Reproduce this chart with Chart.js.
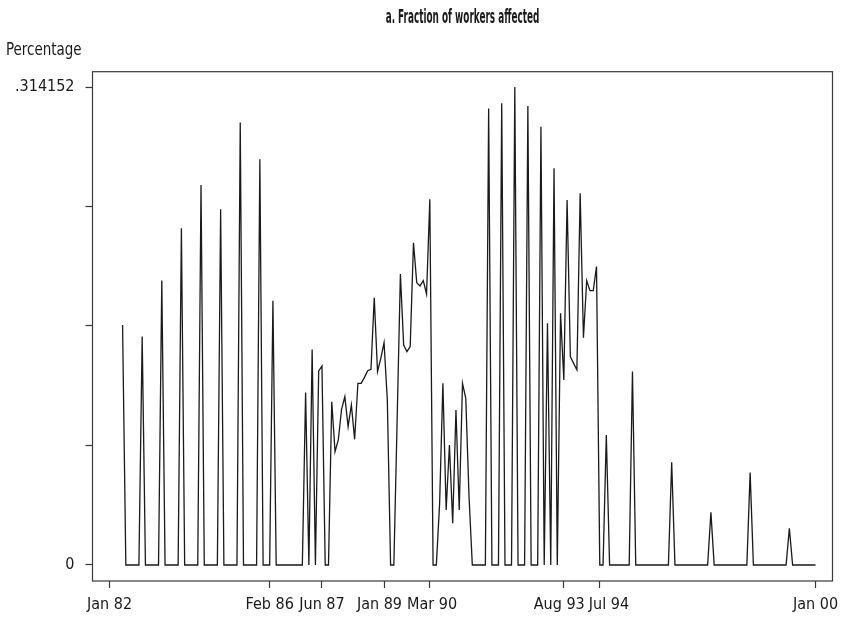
<!DOCTYPE html>
<html>
<head>
<meta charset="utf-8">
<script src="https://cdn.jsdelivr.net/npm/chart.js@4.4.1/dist/chart.umd.min.js"></script>
<style>
  html, body { margin: 0; padding: 0; background: #fff; }
  #wrap { width: 843px; height: 621px; }
</style>
</head>
<body>
<div id="wrap"><canvas id="fractionChart"></canvas></div>
<script>
// Months counted from Jan 82 (0) to Jan 00 (216)
const tickMonths = [0, 49, 65, 84, 98, 139, 150, 216];
const tickLabels = ["Jan 82", "Feb 86", "Jun 87", "Jan 89", "Mar 90", "Aug 93", "Jul 94", "Jan 00"];

const yTicks = [0, 0.078538, 0.157076, 0.235614, 0.314152];
const yTickLabels = ["0", "", "", "", ".314152"];

// Fraction of workers affected, one value per month (rows = years)
const fraction = [
  null, null, null, null, 0.1577, 0, 0, 0, 0, 0, 0.1501, 0,               // 1982
  0, 0, 0, 0, 0.1869, 0, 0, 0, 0, 0, 0.2213, 0,                           // 1983
  0, 0, 0, 0, 0.2497, 0, 0, 0, 0, 0, 0.2338, 0,                           // 1984
  0, 0, 0, 0, 0.2909, 0, 0, 0, 0, 0, 0.2666, 0,                           // 1985
  0, 0, 0.1737, 0, 0, 0, 0, 0, 0, 0, 0, 0,                                // 1986
  0.1133, 0, 0.1417, 0, 0.1275, 0.1307, 0, 0, 0.1073, 0.0745, 0.0822, 0.1023, // 1987
  0.1106, 0.0909, 0.1052, 0.0826, 0.1194, 0.1194, 0.1233, 0.1277, 0.1286, 0.1757, 0.1271, 0.1358, // 1988
  0.1461, 0.1084, 0, 0, 0.095, 0.1913, 0.1446, 0.1402, 0.1435, 0.2118, 0.1856, 0.1834, // 1989
  0.1869, 0.1781, 0.2403, 0, 0, 0.0405, 0.1194, 0.0361, 0.0789, 0.0274, 0.1019, 0.0361, // 1990
  0.1194, 0.1095, 0.0449, 0, 0, 0, 0, 0, 0.3001, 0, 0, 0,                 // 1991
  0.3034, 0, 0, 0, 0.3142, 0, 0, 0, 0.3017, 0, 0, 0,                      // 1992
  0.2881, 0, 0.1588, 0, 0.2607, 0, 0.1654, 0.1216, 0.2399, 0.1369, 0.1325, 0.1282, // 1993
  0.2443, 0.1494, 0.1869, 0.1803, 0.1803, 0.1961, 0, 0, 0.0854, 0, 0, 0,  // 1994
  0, 0, 0, 0, 0.1271, 0, 0, 0, 0, 0, 0, 0,                                // 1995
  0, 0, 0, 0, 0.0675, 0, 0, 0, 0, 0, 0, 0,                                // 1996
  0, 0, 0, 0, 0.0346, 0, 0, 0, 0, 0, 0, 0,                                // 1997
  0, 0, 0, 0, 0.0607, 0, 0, 0, 0, 0, 0, 0,                                // 1998
  0, 0, 0, 0, 0.0241, 0, 0, 0, 0, 0, 0, 0,                                // 1999
  0                                                                       // 2000
];

const titleText = "a. Fraction of workers affected";
const yAxisLabel = "Percentage";

const FONT = "'DejaVu Sans Condensed', 'Liberation Sans Narrow', 'Liberation Sans', sans-serif";
const INK = "#1a1a1a";
const AXIS = "#3a3a3a";
const NBSP = "\u00a0";

// squeeze text sideways, the original uses a condensed face
function drawNarrow(ctx, text, x, y, font, squeeze, align) {
  ctx.save();
  ctx.font = font;
  ctx.textAlign = align;
  ctx.textBaseline = "alphabetic";
  ctx.translate(x, y);
  ctx.scale(squeeze, 1);
  ctx.fillText(text, 0, 0);
  ctx.restore();
}

// crowded labels get nudged apart like in the original
function spacedLabel(index) {
  const label = tickLabels[index];
  if (index === 3) return label + NBSP + NBSP;
  if (index === 4) return NBSP + label;
  if (index === 5) return label + NBSP + NBSP;
  if (index === 6) return NBSP + NBSP + NBSP + NBSP + label;
  return label;
}

// Box round the plot, the title and the "Percentage" label
const framePlugin = {
  id: "frame",
  afterDraw(chart) {
    const { ctx, chartArea: a } = chart;
    ctx.save();
    ctx.strokeStyle = AXIS;
    ctx.lineWidth = 1.2;
    ctx.strokeRect(a.left, a.top, a.right - a.left, a.bottom - a.top);
    ctx.fillStyle = INK;
    drawNarrow(ctx, titleText, (a.left + a.right) / 2, 23, "bold 19px " + FONT, 0.52, "center");
    drawNarrow(ctx, yAxisLabel, 6, 55, "17px " + FONT, 0.88, "left");
    ctx.restore();
  },
};

const points = fraction.map((v, i) => ({ x: i, y: v }));

const fractionChart = new Chart(document.getElementById("fractionChart"), {
  type: "line",
  data: {
    datasets: [
      {
        data: points,
        borderColor: INK,
        borderWidth: 1.3,
        pointRadius: 0,
        tension: 0,
        spanGaps: false,
      },
    ],
  },
  options: {
    responsive: true,
    maintainAspectRatio: false,
    animation: false,
    layout: {
      padding: { left: 0, right: 10.5, top: 71.7, bottom: 0 },
    },
    scales: {
      x: {
        type: "linear",
        min: -5.2,
        max: 221.2,
        afterBuildTicks: (axis) => {
          axis.ticks = tickMonths.map((m) => ({ value: m }));
        },
        afterFit: (scale) => {
          scale.height = 40;
          scale.paddingLeft = 0;
          scale.paddingRight = 0;
        },
        ticks: {
          autoSkip: false,
          maxRotation: 0,
          padding: 7,
          color: INK,
          font: { family: FONT, size: 16 },
          callback: (value, index) => spacedLabel(index),
        },
        grid: {
          drawOnChartArea: false,
          drawTicks: true,
          tickLength: 7,
          tickColor: AXIS,
          tickWidth: 1.2,
        },
        border: { display: false },
      },
      y: {
        min: -0.01052,
        max: 0.32421,
        afterBuildTicks: (axis) => {
          axis.ticks = yTicks.map((v) => ({ value: v }));
        },
        afterFit: (scale) => {
          scale.width = 92.5;
          scale.paddingTop = 0;
          scale.paddingBottom = 0;
        },
        ticks: {
          padding: 11,
          color: INK,
          font: { family: FONT, size: 16 },
          callback: (value, index) => yTickLabels[index],
        },
        grid: {
          drawOnChartArea: false,
          drawTicks: true,
          tickLength: 7,
          tickColor: AXIS,
          tickWidth: 1.2,
        },
        border: { display: false },
      },
    },
    plugins: {
      legend: { display: false },
      tooltip: { enabled: false },
    },
  },
  plugins: [framePlugin],
});
</script>
</body>
</html>
